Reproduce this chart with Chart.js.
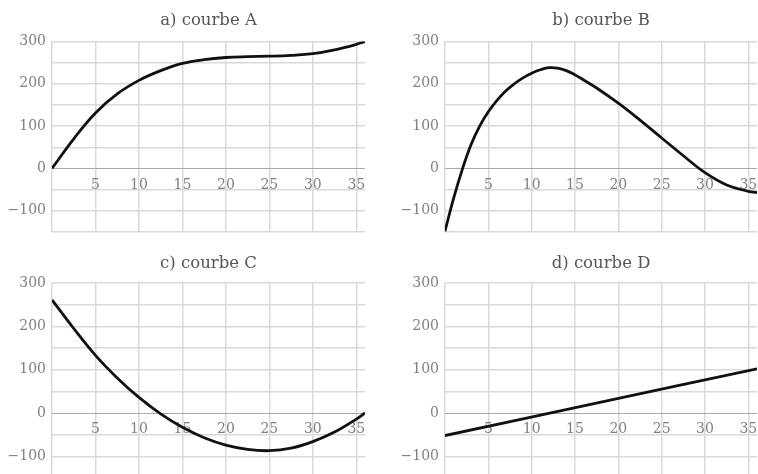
<!DOCTYPE html>
<html>
<head>
<meta charset="utf-8">
<script src="https://cdn.jsdelivr.net/npm/chart.js@4/dist/chart.umd.min.js"></script>
<style>
  html, body { margin: 0; padding: 0; background: #fff; overflow: hidden; width: 758px; height: 474px; }
  .pane { position: absolute; }
</style>
</head>
<body>
<div class="pane" id="pA" style="left:0px;top:0px;width:379px;height:237px"><canvas id="cA"></canvas></div>
<div class="pane" id="pB" style="left:393px;top:0px;width:365px;height:237px"><canvas id="cB"></canvas></div>
<div class="pane" id="pC" style="left:0px;top:237px;width:379px;height:245px"><canvas id="cC"></canvas></div>
<div class="pane" id="pD" style="left:393px;top:237px;width:365px;height:245px"><canvas id="cD"></canvas></div>
<script>
// ---- data ----
const titles = ["a) courbe A", "b) courbe B", "c) courbe C", "d) courbe D"];

const xA = [0, 2.5, 5, 7.5, 10, 12.5, 15, 17.5, 20, 22.5, 25, 27.5, 30, 32.5, 35, 36];
const yA = [0, 70, 131, 176, 208, 231, 248, 257, 262, 264, 265, 267, 271, 280, 293, 300];

const xB = [0, 1, 2, 3, 4, 5, 6, 7, 8, 9, 10, 11, 12, 13, 14, 15, 16, 17.5, 20, 22.5, 25, 27.5, 30, 32.5, 35, 36];
const yB = [-148, -70, -2, 56, 100, 134, 161, 183, 200, 214, 225, 233, 238, 237, 231, 221, 209, 190, 154, 114, 72, 30, -10, -39, -54, -57];

const xC = [0, 2.5, 5, 7.5, 10, 12.5, 15, 17.5, 20, 22.5, 25, 27.5, 30, 32.5, 35, 36];
const yC = [261, 195, 133, 81, 36, -2, -33, -57, -74, -84, -87, -81, -66, -44, -14, 0];

const xD = [0, 18, 36];
const yD = [-52, 25, 102];

const xGrid = [0, 5, 10, 15, 20, 25, 30, 35];
const xTicks = [5, 10, 15, 20, 25, 30, 35];
const yTicks = [300, 200, 100, 0, -100];

// ---- chart builder ----
const FONT = "'DejaVu Serif', serif";
function pts(xs, ys) { return xs.map((x, i) => ({ x: x, y: ys[i] })); }

function makeChart(id, title, xs, ys, pad) {
  new Chart(document.getElementById(id), {
    type: 'line',
    data: {
      datasets: [{
        data: pts(xs, ys),
        borderColor: '#111',
        borderWidth: 2.8,
        pointRadius: 0,
        fill: false,
        tension: 0.4
      }]
    },
    options: {
      responsive: true,
      maintainAspectRatio: false,
      animation: false,
      events: [],
      layout: { padding: { left: 0, right: pad.right, top: 0, bottom: pad.bottom } },
      plugins: {
        legend: { display: false },
        tooltip: { enabled: false },
        title: {
          display: true,
          fullSize: false,
          text: title,
          color: '#555',
          font: { family: FONT, size: 16.5, weight: 'normal', lineHeight: 1.2 },
          padding: { top: pad.tTop, bottom: pad.tBottom }
        }
      },
      scales: {
        x: {
          type: 'linear',
          min: 0, max: 36,
          position: { y: 0 },
          afterBuildTicks: (s) => { s.ticks = xGrid.map(v => ({ value: v })); },
          afterFit: (s) => { s.paddingLeft = 0; s.paddingRight = 0; s.paddingTop = 0; s.paddingBottom = 0; },
          border: { display: false },
          grid: { drawTicks: false, lineWidth: 1.5, color: '#d9d9d9' },
          ticks: {
            padding: 8,
            autoSkip: false,
            maxRotation: 0,
            color: '#808080',
            font: { family: FONT, size: 14 },
            callback: (v) => xTicks.includes(v) ? String(v) : ''
          }
        },
        y: {
          type: 'linear',
          min: -150, max: 300,
          border: { display: false },
          grid: {
            drawTicks: false,
            lineWidth: (c) => (c.tick && c.tick.value === 0) ? 1 : 1.5,
            color: (c) => (c.tick && c.tick.value === 0) ? '#a8a8a8' : '#d9d9d9'
          },
          afterFit: (s) => { s.width = 52; s.paddingTop = 0; s.paddingBottom = 0; },
          ticks: {
            stepSize: 50,
            padding: 6,
            autoSkip: false,
            color: '#808080',
            font: { family: FONT, size: 14 },
            callback: (v) => yTicks.includes(v) ? (v < 0 ? '\u2212' + Math.abs(v) : String(v)) : ''
          }
        }
      }
    }
  });
}

makeChart('cA', titles[0], xA, yA, { right: 14, bottom: 5, tTop: 10.4, tBottom: 11.2 });
makeChart('cB', titles[1], xB, yB, { right: 1, bottom: 5, tTop: 10.4, tBottom: 11.2 });
makeChart('cC', titles[2], xC, yC, { right: 14, bottom: 4, tTop: 17.1, tBottom: 9.1 });
makeChart('cD', titles[3], xD, yD, { right: 1, bottom: 4, tTop: 17.1, tBottom: 9.1 });
</script>
</body>
</html>
